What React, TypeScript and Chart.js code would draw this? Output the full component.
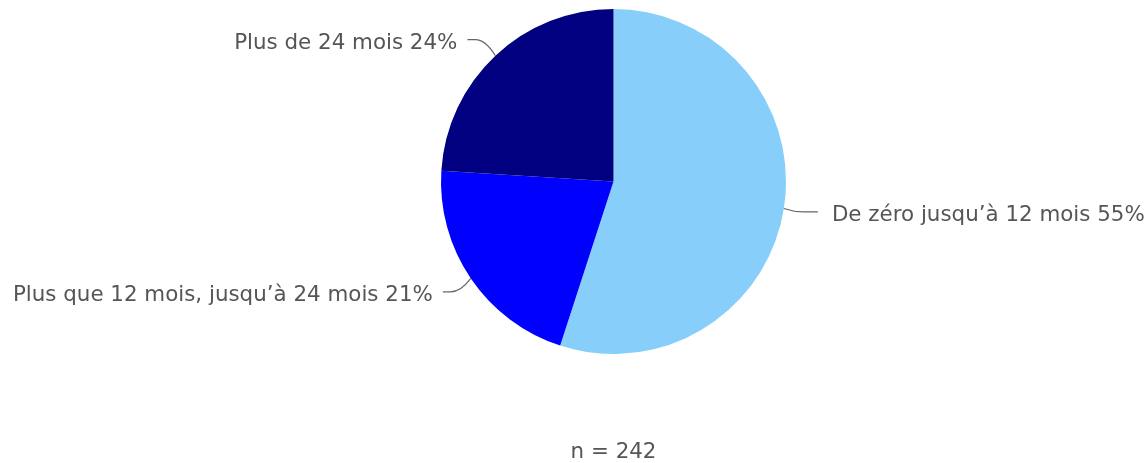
import React, { useEffect, useRef } from "react";
import { Chart, registerables } from "chart.js";

Chart.register(...registerables);

const categories = [
  "De zéro jusqu’à 12 mois",
  "Plus que 12 mois, jusqu’à 24 mois",
  "Plus de 24 mois",
];
const values = [55, 21, 24];
const colors = ["#87CEFA", "#0000FF", "#000080"];
const subtitle = "n = 242";

const FONT = "21.4px 'DejaVu Sans', Verdana, sans-serif";
const TEXT = "#555555";

const labelPlugin = {
  id: "pieLabels",
  afterDraw(chart: any) {
    const ctx = chart.ctx;
    const meta = chart.getDatasetMeta(0);
    ctx.save();
    ctx.font = FONT;
    ctx.fillStyle = TEXT;
    ctx.strokeStyle = "#666666";
    ctx.lineWidth = 1.2;
    meta.data.forEach((arc: any, i: number) => {
      const { x, y, outerRadius, startAngle, endAngle } = arc.getProps(
        ["x", "y", "outerRadius", "startAngle", "endAngle"],
        true
      );
      const mid = (startAngle + endAngle) / 2;
      const cos = Math.cos(mid);
      const sin = Math.sin(mid);
      const ex = x + cos * outerRadius;
      const ey = y + sin * outerRadius;
      const dir = cos >= 0 ? 1 : -1;
      const ly = y + sin * (outerRadius + 22) + (sin > 0.5 ? 1 : 0);
      const endX = ex + dir * (dir > 0 ? 34 : 28);
      ctx.beginPath();
      ctx.moveTo(ex, ey);
      ctx.quadraticCurveTo(ex + dir * 10, ly, ex + dir * 20, ly);
      ctx.lineTo(endX, ly);
      ctx.stroke();
      const text = `${categories[i]} ${values[i]}%`;
      ctx.textBaseline = "middle";
      ctx.textAlign = dir > 0 ? "left" : "right";
      ctx.fillText(text, endX + dir * (dir > 0 ? 14 : 10), ly + 4);
    });
    const a = chart.chartArea;
    ctx.textAlign = "center";
    ctx.textBaseline = "middle";
    ctx.fillText(subtitle, (a.left + a.right) / 2, 452);
    ctx.restore();
  },
};

export default function App() {
  const ref = useRef<HTMLCanvasElement | null>(null);
  useEffect(() => {
    if (!ref.current) return;
    const chart = new Chart(ref.current, {
      type: "pie",
      data: {
        labels: categories,
        datasets: [
          {
            data: values,
            backgroundColor: colors,
            borderWidth: 0,
          },
        ],
      },
      options: {
        animation: false,
        responsive: false,
        maintainAspectRatio: false,
        layout: { padding: { top: 9, bottom: 109, left: 441, right: 362 } },
        plugins: {
          legend: { display: false },
          tooltip: { enabled: false },
        },
      },
      plugins: [labelPlugin],
    });
    return () => chart.destroy();
  }, []);
  return (
    <div style={{ position: "fixed", left: 0, top: 0, width: 1148, height: 463, background: "#fff" }}>
      <canvas ref={ref} width={1148} height={463} style={{ width: 1148, height: 463 }} />
    </div>
  );
}
